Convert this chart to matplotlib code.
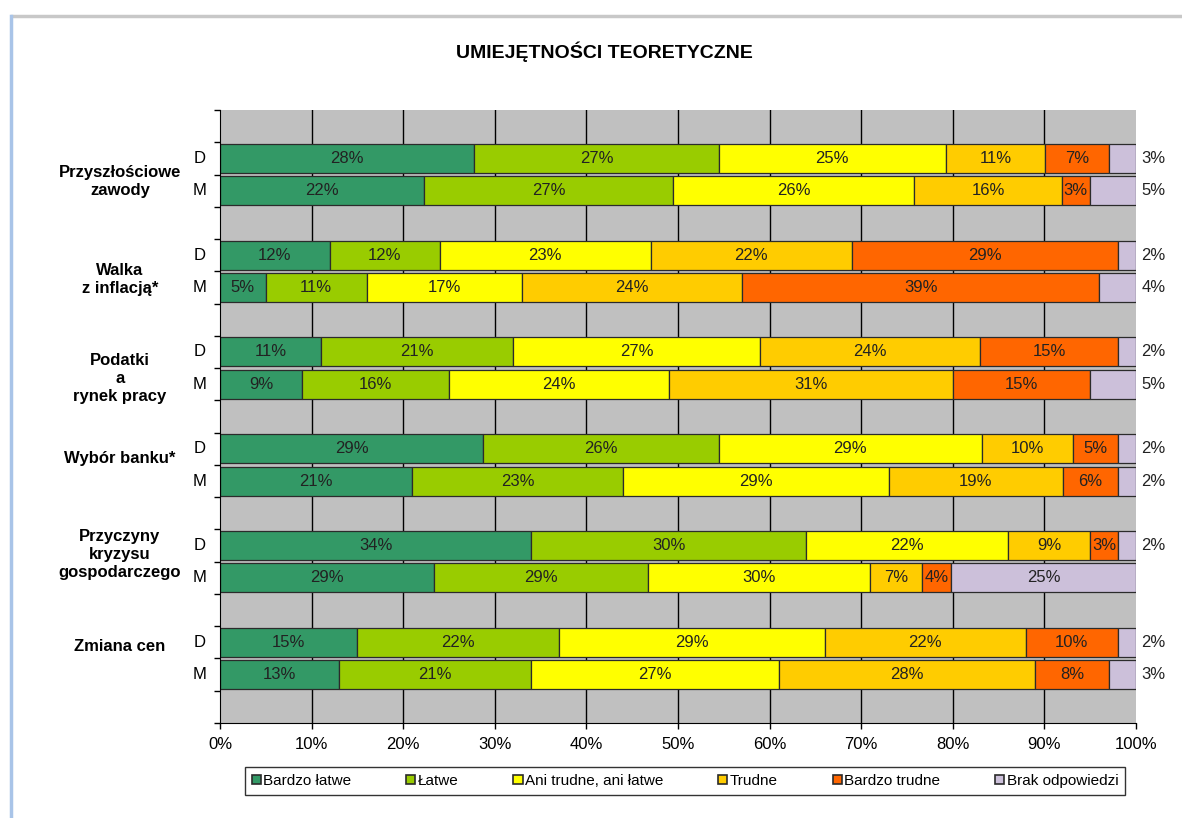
import numpy as np
import matplotlib.pyplot as plt
import matplotlib.transforms as mtransforms
from matplotlib.lines import Line2D

plt.rcParams['font.family'] = ['Liberation Sans', 'DejaVu Sans']

# data
groups = ['Przyszłościowe\nzawody', 'Walka\nz inflacją*', 'Podatki\na\nrynek pracy',
          'Wybór banku*', 'Przyczyny\nkryzysu\ngospodarczego', 'Zmiana cen']
rows = ['D', 'M']
series = ['Bardzo łatwe', 'Łatwe', 'Ani trudne, ani łatwe', 'Trudne',
          'Bardzo trudne', 'Brak odpowiedzi']
colors = ['#339966', '#99CC00', '#FFFF00', '#FFCC00', '#FF6600', '#CCC0DA']

bardzo_latwe = [28, 22, 12, 5, 11, 9, 29, 21, 34, 29, 15, 13]
latwe = [27, 27, 12, 11, 21, 16, 26, 23, 30, 29, 22, 21]
ani = [25, 26, 23, 17, 27, 24, 29, 29, 22, 30, 29, 27]
trudne = [11, 16, 22, 24, 24, 31, 10, 19, 9, 7, 22, 28]
bardzo_trudne = [7, 3, 29, 39, 15, 15, 5, 6, 3, 4, 10, 8]
brak = [3, 5, 2, 4, 2, 5, 2, 2, 2, 25, 2, 3]

vals = np.array([bardzo_latwe, latwe, ani, trudne, bardzo_trudne, brak], dtype=float)
pct = vals / vals.sum(axis=0) * 100  # 100% stacked, like Excel

fig = plt.figure(figsize=(11.82, 8.18), dpi=100, facecolor='white')
ax = fig.add_axes([220 / 1182, 1 - 723 / 818, 916 / 1182, 613 / 818])
ax.set_facecolor('#C0C0C0')

# slot positions: blank, D, M, blank, D, M, ... , blank
ypos = []
for g in range(len(groups)):
    ypos += [3 * g + 1.5, 3 * g + 2.5]
ypos = np.array(ypos)
nslots = 3 * len(groups) + 1

# grid
for xg in range(10, 100, 10):
    ax.axvline(xg, color='black', lw=1.0, zorder=1)

left = np.zeros(len(ypos))
for i, name in enumerate(series):
    ax.barh(ypos, pct[i], left=left, height=0.9, color=colors[i],
            edgecolor='#2b2b2b', lw=0.9, label=name, zorder=2)
    for j in range(len(ypos)):
        v = vals[i, j]
        cx = left[j] + pct[i, j] / 2
        if i == len(series) - 1 and v < 10:
            ax.text(100.6, ypos[j], f'{v:.0f}%', ha='left', va='center',
                    fontsize=12, color='#222222', clip_on=False)
        else:
            ax.text(cx, ypos[j], f'{v:.0f}%', ha='center', va='center',
                    fontsize=12, color='#222222', zorder=3)
    left += pct[i]

ax.set_xlim(0, 100)
ax.set_ylim(nslots, 0)
ax.set_xticks(np.arange(0, 101, 10))
ax.set_xticklabels([f'{t}%' for t in range(0, 101, 10)], fontsize=12)
ax.set_yticks(np.arange(0, nslots + 1))
ax.set_yticklabels([])
ax.tick_params(axis='y', direction='out', length=4, width=1, color='black')
ax.tick_params(axis='x', direction='out', length=4, width=1, color='black', pad=6)
for s in ['top', 'right']:
    ax.spines[s].set_visible(False)
ax.spines['left'].set_color('black')
ax.spines['bottom'].set_color('black')

# category and row labels
label_shift = [0.23, 0.24, 0.31, -0.21, -0.21, -0.36]
trans = mtransforms.blended_transform_factory(fig.transFigure, ax.transData)
for g, name in enumerate(groups):
    ax.text(120 / 1182, 3 * g + 2 + label_shift[g], name, transform=trans,
            ha='center', va='center', fontsize=12, fontweight='bold',
            linespacing=1.25)
for j, y in enumerate(ypos):
    ax.text(200 / 1182, y, rows[j % 2], transform=trans, ha='center',
            va='center', fontsize=12)

fig.text(604 / 1182, 1 - 52 / 818, 'UMIEJĘTNOŚCI TEORETYCZNE', ha='center',
         va='center', fontsize=14, fontweight='bold')

leg = fig.legend(loc='center', bbox_to_anchor=(685 / 1182, 1 - 781 / 818),
                 ncol=6, fontsize=11, frameon=True, fancybox=False,
                 handlelength=0.6, handleheight=0.6, handletextpad=0.15,
                 columnspacing=3.6, borderpad=0.45, borderaxespad=0)
leg.get_frame().set_edgecolor('black')
leg.get_frame().set_linewidth(1.0)
for h in leg.legend_handles:
    h.set_edgecolor('#2b2b2b')
    h.set_linewidth(1.2)

# window frame decoration
fig.add_artist(Line2D([12 / 1182, 1], [1 - 16 / 818, 1 - 16 / 818],
                      transform=fig.transFigure, color='#c8c8c8', lw=2.5))
fig.add_artist(Line2D([10.5 / 1182, 10.5 / 1182], [0, 1 - 16 / 818],
                      transform=fig.transFigure, color='#a9c4e8', lw=2.5))

fig.savefig('out.png', dpi=100, facecolor='white')
